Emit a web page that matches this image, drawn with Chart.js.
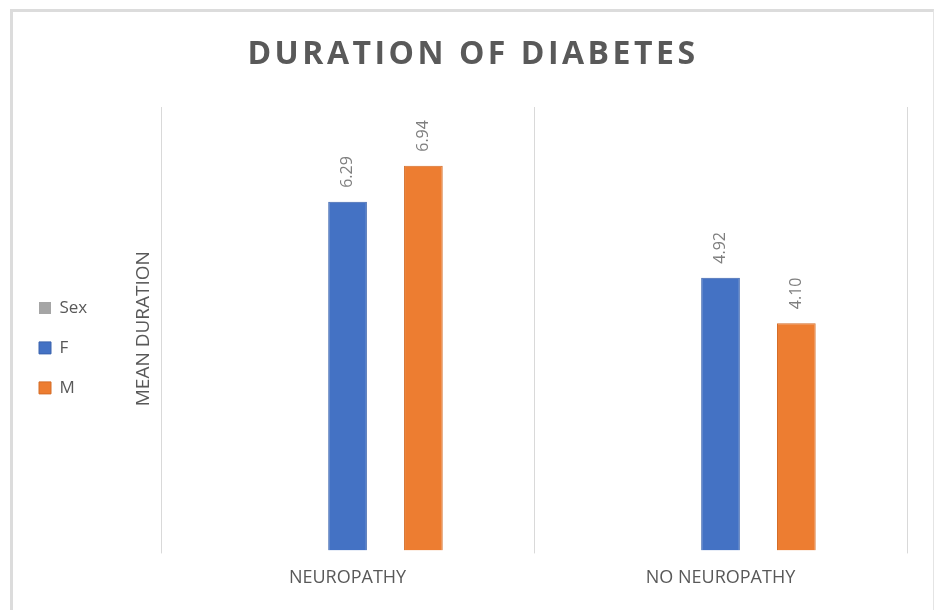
<!DOCTYPE html>
<html>
<head>
<meta charset="utf-8">
<script src="https://cdn.jsdelivr.net/npm/chart.js@4"></script>
<style>
  html, body { margin: 0; padding: 0; background: #fff; }
  body { width: 934px; height: 610px; position: relative; overflow: hidden; }
  #frame {
    position: absolute; left: 10px; top: 9px; width: 920px; height: 601px;
    border-left: 3px solid #dcdcdc; border-top: 3px solid #dcdcdc; border-right: 1px solid #e4e4e4;
  }
  #title {
    position: absolute; left: 0; right: 0; top: 18px; text-align: center;
    font: bold 32px "Open Sans", sans-serif; letter-spacing: 3.5px; color: #595959;
  }
  #box { position: absolute; left: 0; top: 0; width: 920px; height: 598px; }
</style>
</head>
<body>
<div id="frame">
  <div id="box"><canvas id="myChart"></canvas></div>
  <div id="title">DURATION OF DIABETES</div>
</div>
<script>
// chart data
const categories = ['NEUROPATHY', 'NO NEUROPATHY'];
const seriesNames = ['Sex', 'F', 'M'];
const sexValues = [null, null];
const femaleValues = [6.29, 4.92];
const maleValues = [6.94, 4.10];

const textGray = '#595959';

// Draw the value labels rotated above each bar
const barLabels = {
    id: 'barLabels',
    afterDatasetsDraw(chart) {
        const ctx = chart.ctx;
        chart.data.datasets.forEach((ds, i) => {
            const meta = chart.getDatasetMeta(i);
            meta.data.forEach((bar, j) => {
                const v = ds.data[j];
                if (v === null || v === undefined) return;
                ctx.save();
                ctx.translate(bar.x, bar.y - 14);
                ctx.rotate(-Math.PI / 2);
                ctx.font = '16px "Open Sans", sans-serif';
                ctx.fillStyle = '#7f7f7f';
                ctx.textAlign = 'left';
                ctx.textBaseline = 'middle';
                ctx.fillText(v.toFixed(2), 0, 0);
                ctx.restore();
            });
        });
    }
};

const ctx = document.getElementById('myChart').getContext('2d');
new Chart(ctx, {
    type: 'bar',
    data: {
        labels: categories,
        datasets: [
            { label: seriesNames[0], data: sexValues, backgroundColor: '#a5a5a5' },
            { label: seriesNames[1], data: femaleValues, backgroundColor: '#4472c4', borderColor: '#3b63ad', borderWidth: 1 },
            { label: seriesNames[2], data: maleValues, backgroundColor: '#ed7d31', borderColor: '#d46c27', borderWidth: 1 }
        ]
    },
    options: {
        responsive: true,
        maintainAspectRatio: false,
        animation: false,
        categoryPercentage: 0.61,
        barPercentage: 0.51,
        layout: { padding: { top: 95, right: 26, bottom: 7, left: 3 } },
        plugins: {
            legend: {
                position: 'left',
                align: 'start',
                title: { display: true, text: ' ', padding: { top: 167, bottom: 0 }, font: { size: 2 } },
                labels: {
                    boxWidth: 12,
                    boxHeight: 12,
                    padding: 23,
                    color: textGray,
                    font: { family: '"Open Sans", sans-serif', size: 17 }
                }
            },
            tooltip: { enabled: false }
        },
        scales: {
            x: {
                grid: { display: true, offset: true, color: '#d9d9d9', tickLength: 3 },
                border: { display: false },
                ticks: {
                    color: textGray,
                    padding: 14,
                    font: { family: '"Open Sans", sans-serif', size: 18 }
                }
            },
            y: {
                min: 0,
                max: 8,
                grid: { display: false, drawTicks: false },
                border: { display: false },
                ticks: { display: false },
                title: {
                    display: true,
                    text: 'MEAN DURATION',
                    color: textGray,
                    padding: { top: 35, bottom: 6 },
                    font: { family: '"Open Sans", sans-serif', size: 19 }
                }
            }
        }
    },
    plugins: [barLabels]
});
</script>
</body>
</html>
